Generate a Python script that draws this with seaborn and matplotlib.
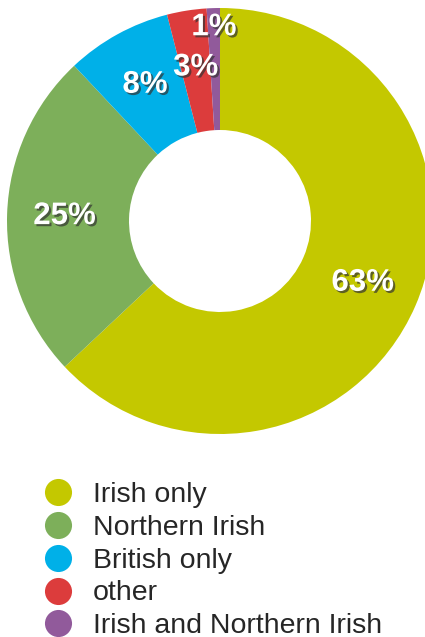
import matplotlib
matplotlib.use("Agg")
import numpy as np
import matplotlib.pyplot as plt
import matplotlib.patheffects as pe
from matplotlib.lines import Line2D
import seaborn as sns

# data
groups = ['Irish only', 'Northern Irish', 'British only', 'other',
          'Irish and Northern Irish']
shares = [63, 25, 8, 3, 1]
labels = ['63%', '25%', '8%', '3%', '1%']
colors = ['#c4c800', '#7daf5a', '#00b0e8', '#dc3c3c', '#915a9b']

sns.set_theme(style='white')
plt.rcParams['font.family'] = ['Liberation Sans', 'DejaVu Sans']

fig = plt.figure(figsize=(4.25, 6.37), dpi=100)
ax = fig.add_axes([0, 0, 1, 1])

# pixel-based coordinates, y pointing up
cx, cy, r = 220, 637 - 221, 213
wedges, _ = ax.pie(shares, colors=sns.color_palette(colors), startangle=90,
                   counterclock=False, center=(cx, cy), radius=r,
                   wedgeprops=dict(width=r - 91, linewidth=0))

shadow = [pe.SimplePatchShadow(offset=(1.5, -1.5), shadow_rgbFace='#333333', alpha=0.7),
          pe.Normal()]
for w, lab in zip(wedges, labels):
    ang = np.deg2rad((w.theta1 + w.theta2) / 2)
    rr = 0.91 * r if lab == '1%' else 0.73 * r  # small slice pushed outwards
    ax.text(cx + rr * np.cos(ang), cy + rr * np.sin(ang), lab, color='white',
            fontsize=22.5, fontweight='bold', ha='center', va='center',
            path_effects=shadow)

ax.set_xlim(0, 425)
ax.set_ylim(0, 637)
ax.set_aspect('equal')
ax.axis('off')

handles = [Line2D([], [], marker='o', linestyle='', markersize=19.5,
                  markerfacecolor=c, markeredgewidth=0) for c in colors]
fig.legend(handles, groups, loc='upper left', bbox_to_anchor=(44 / 425, 1 - 482 / 637),
           frameon=False, fontsize=20.5, handlelength=1.0, handletextpad=0.72,
           borderpad=0, borderaxespad=0, labelspacing=0.24, handleheight=0.7)

fig.savefig('out.png', dpi=100)
